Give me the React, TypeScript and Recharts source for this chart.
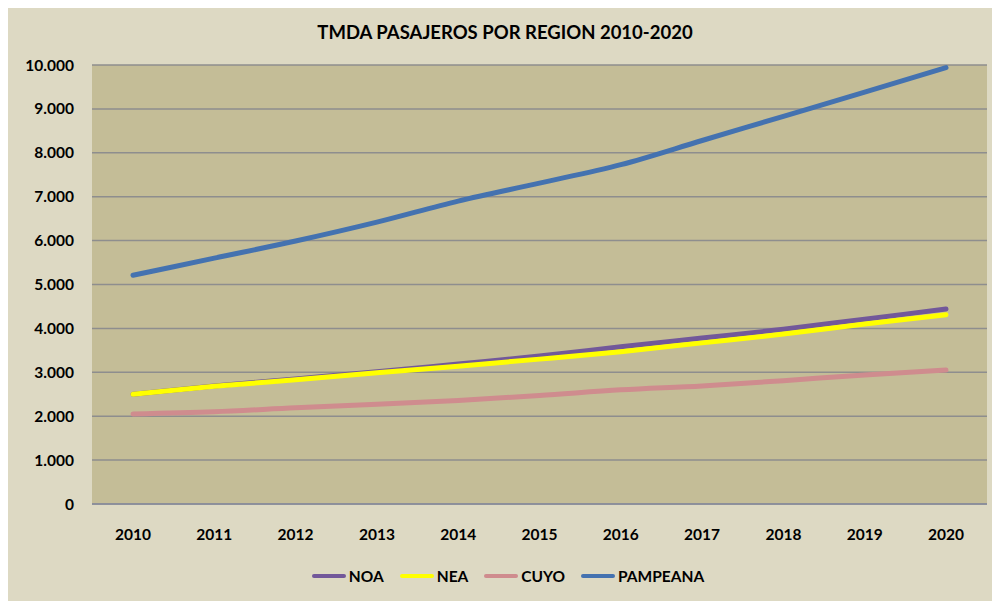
import React from 'react';
import { LineChart, Line, XAxis, YAxis, CartesianGrid } from 'recharts';

const years = ['2010', '2011', '2012', '2013', '2014', '2015', '2016', '2017', '2018', '2019', '2020'];
const noa = [2500, 2690, 2850, 3010, 3190, 3370, 3580, 3780, 3980, 4210, 4440];
const nea = [2500, 2680, 2830, 2990, 3140, 3300, 3470, 3670, 3870, 4100, 4310];
const cuyo = [2050, 2100, 2190, 2270, 2360, 2470, 2600, 2690, 2810, 2940, 3050];
const pampeana = [5210, 5600, 5990, 6420, 6900, 7310, 7730, 8280, 8830, 9380, 9940];
const yTicks = [0, 1000, 2000, 3000, 4000, 5000, 6000, 7000, 8000, 9000, 10000];

const series = [
  { key: 'NOA', color: '#72589A' },
  { key: 'NEA', color: '#FFFF00' },
  { key: 'CUYO', color: '#CF8C8E' },
  { key: 'PAMPEANA', color: '#4472B0' },
];

const data = years.map((year, i) => ({
  year,
  NOA: noa[i],
  NEA: nea[i],
  CUYO: cuyo[i],
  PAMPEANA: pampeana[i],
}));

const FONT = 'Lato, "Open Sans", sans-serif';

const fmt = (v: number) => (v === 0 ? '0' : v.toLocaleString('de-DE'));

const ChartLegend = () => (
  <div
    style={{
      position: 'absolute',
      top: 562,
      left: 4,
      width: 992,
      display: 'flex',
      justifyContent: 'center',
      alignItems: 'center',
      gap: 16,
      fontFamily: FONT,
      fontWeight: 700,
      fontSize: 15.5,
      color: '#000',
    }}
  >
    {series.map((s) => (
      <div key={s.key} style={{ display: 'flex', alignItems: 'center' }}>
        <span style={{ display: 'inline-block', width: 34, height: 4, borderRadius: 2, background: s.color, marginRight: 3 }} />
        <span>{s.key}</span>
      </div>
    ))}
  </div>
);

export default function App() {
  return (
    <div style={{ position: 'relative', width: 992, height: 596, marginTop: -3, background: '#DDD9C3' }}>
      <div
        style={{
          position: 'absolute',
          top: 16,
          left: 0,
          width: 994,
          textAlign: 'center',
          fontFamily: FONT,
          fontWeight: 700,
          fontSize: 18.5,
          color: '#000',
          zIndex: 2,
        }}
      >
        TMDA PASAJEROS POR REGION 2010-2020
      </div>
      <LineChart width={992} height={596} data={data} margin={{ top: 60, right: 13, bottom: 67, left: 0 }}>
        <CartesianGrid vertical={false} fill="#C4BD97" stroke="#8E8E8E" strokeWidth={1.5} />
        <XAxis
          dataKey="year"
          height={30}
          padding={{ left: 41, right: 41 }}
          axisLine={{ stroke: '#878C9C', strokeWidth: 1.5 }}
          tickLine={false}
          tickSize={0}
          tickMargin={25}
          tick={{ fill: '#000', fontSize: 15.5, fontWeight: 700, fontFamily: FONT }}
          interval={0}
        />
        <YAxis
          width={84}
          domain={[0, 10000]}
          ticks={yTicks}
          axisLine={false}
          tickLine={false}
          tickSize={0}
          tickMargin={18}
          tickFormatter={fmt}
          tick={{ fill: '#000', fontSize: 15.5, fontWeight: 700, fontFamily: FONT }}
        />
        {series.map((s) => (
          <Line
            key={s.key}
            type="monotone"
            dataKey={s.key}
            stroke={s.color}
            strokeWidth={5}
            strokeLinecap="round"
            dot={false}
            activeDot={false}
            isAnimationActive={false}
          />
        ))}
      </LineChart>
      <ChartLegend />
    </div>
  );
}
